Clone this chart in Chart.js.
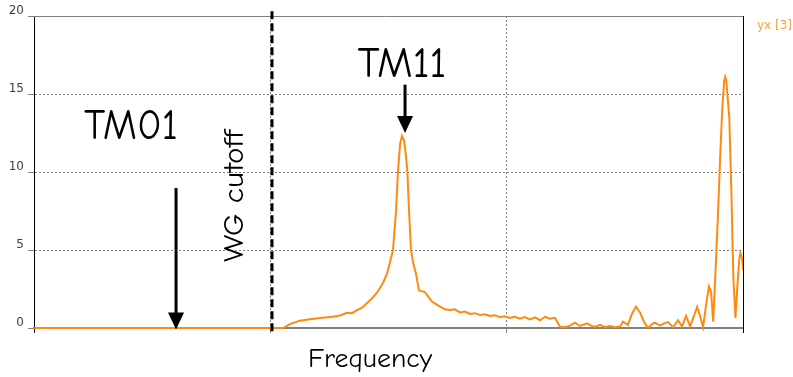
<!DOCTYPE html>
<html>
<head>
<meta charset="utf-8">
<script src="https://cdn.jsdelivr.net/npm/chart.js@4/dist/chart.umd.min.js"></script>
<style>
  html, body { margin: 0; padding: 0; background: #fff; }
  #wrap { width: 793px; height: 377px; position: relative; }
</style>
</head>
<body>
<div id="wrap"><canvas id="spectrum"></canvas></div>
<script>
// frequency axis runs 0..300 (three grid sections, no tick labels)
const freq = [
  0, 105.4, 108.3, 112.5, 116.8, 121.0, 126.5, 129.5, 132.4, 134.5,
  136.7, 138.8, 140.9, 143.0, 145.1, 147.7, 149.4, 150.6, 151.9, 153.2,
  154.0, 154.9, 155.7, 156.6, 157.4, 158.0, 158.7, 159.5, 160.4, 161.6,
  162.9, 165.4, 168.4, 171.8, 173.9, 176.0, 178.1, 180.2, 182.4, 184.5,
  186.6, 188.7, 190.8, 192.9, 195.0, 197.2, 199.3, 201.4, 203.5, 205.6,
  207.7, 209.9, 212.0, 214.1, 216.2, 218.3, 220.4, 222.6, 224.7, 226.8,
  228.9, 231.0, 234.0, 235.7, 237.4, 239.5, 241.6, 243.7, 245.8, 248.0,
  249.2, 251.3, 253.0, 254.7, 256.4, 258.1, 259.8, 261.5, 262.7, 264.9,
  266.6, 268.3, 270.4, 272.5, 274.2, 275.9, 277.6, 279.3, 280.6, 281.8,
  283.1, 284.4, 285.6, 286.5, 287.4, 288.6, 289.5, 290.3, 291.2, 292.0,
  292.5, 292.9, 294.2, 295.1, 295.9, 296.8, 297.6, 298.5, 298.9, 299.7,
  300
];
const amplitude = [
  0, 0, 0.25, 0.47, 0.56, 0.64, 0.72, 0.8, 0.98, 0.95,
  1.15, 1.3, 1.6, 1.9, 2.26, 2.9, 3.5, 4.2, 5.0, 7.5,
  10.0, 11.8, 12.3, 12.0, 11.0, 10.0, 7.5, 5.0, 4.2, 3.5,
  2.4, 2.3, 1.7, 1.37, 1.2, 1.15, 1.2, 1.0, 1.05, 0.9,
  0.95, 0.83, 0.88, 0.77, 0.82, 0.7, 0.75, 0.64, 0.72, 0.6,
  0.7, 0.55, 0.68, 0.5, 0.72, 0.6, 0.65, 0.08, 0.05, 0.15,
  0.34, 0.13, 0.3, 0.15, 0.07, 0.2, 0.05, 0.12, 0.05, 0.1,
  0.4, 0.2, 0.9, 1.37, 1.0, 0.4, 0.0, 0.25, 0.34, 0.15,
  0.3, 0.38, 0.05, 0.5, 0.1, 0.77, 0.1, 0.8, 1.35, 0.8,
  0.05, 1.5, 2.65, 2.3, 0.4, 4.4, 7.6, 10.8, 14.0, 15.8,
  16.1, 15.9, 13.5, 8.6, 3.3, 0.64, 2.65, 4.5, 4.8, 4.4,
  3.7
];
const yTicks = [0, 5, 10, 15, 20];
const xGrid = [0, 100, 200, 300];
const seriesName = 'yx [3]';

const HAND = '"Comic Sans MS", "Comic Neue", "Open Sans", sans-serif';

// draw text squeezed to a given width, baseline at (cx, by)
function fitText(ctx, txt, cx, by, size, width, angle) {
  ctx.save();
  ctx.font = size + 'px ' + HAND;
  const w = ctx.measureText(txt).width;
  ctx.translate(cx, by);
  if (angle) ctx.rotate(angle);
  ctx.scale(width / w, 1);
  ctx.textAlign = 'center';
  ctx.textBaseline = 'alphabetic';
  ctx.fillStyle = '#000';
  ctx.fillText(txt, 0, 0);
  ctx.restore();
}

function arrow(ctx, px, yFrom, yTip) {
  const head = 17, half = 8;
  ctx.beginPath();
  ctx.moveTo(px, yFrom);
  ctx.lineTo(px, yTip - head + 2);
  ctx.lineWidth = 3;
  ctx.strokeStyle = '#000';
  ctx.stroke();
  ctx.beginPath();
  ctx.moveTo(px - half, yTip - head);
  ctx.lineTo(px + half, yTip - head);
  ctx.lineTo(px, yTip);
  ctx.closePath();
  ctx.fillStyle = '#000';
  ctx.fill();
}

const annotate = {
  id: 'annotate',
  afterDraw(chart) {
    const { ctx, chartArea: a, scales: { x, y } } = chart;
    ctx.save();

    // frame: grey top line, black right edge
    ctx.lineWidth = 1;
    ctx.strokeStyle = '#808080';
    ctx.beginPath();
    ctx.moveTo(a.left - 6, a.top + 0.5);
    ctx.lineTo(a.right, a.top + 0.5);
    ctx.stroke();
    ctx.strokeStyle = '#000';
    ctx.beginPath();
    ctx.moveTo(a.right + 0.5, a.top);
    ctx.lineTo(a.right + 0.5, a.bottom + 5);
    ctx.stroke();

    // waveguide cutoff marker
    const xc = x.getPixelForValue(100.7);
    ctx.setLineDash([8, 4]);
    ctx.lineWidth = 3;
    ctx.beginPath();
    ctx.moveTo(xc, y.getPixelForValue(20.3));
    ctx.lineTo(xc, y.getPixelForValue(-0.3));
    ctx.stroke();
    ctx.setLineDash([]);

    arrow(ctx, x.getPixelForValue(60.1), y.getPixelForValue(8.97), y.getPixelForValue(-0.1));
    arrow(ctx, x.getPixelForValue(157.0), y.getPixelForValue(15.6), y.getPixelForValue(12.5));

    fitText(ctx, 'TM01', x.getPixelForValue(41.0), y.getPixelForValue(12.12), 42, 94);
    fitText(ctx, 'TM11', x.getPixelForValue(155.7), y.getPixelForValue(16.09), 42, 89);
    fitText(ctx, 'WG cutoff', x.getPixelForValue(88.3), y.getPixelForValue(8.46), 28, 132, -Math.PI / 2);
    fitText(ctx, 'Frequency', x.getPixelForValue(142.2), y.getPixelForValue(-2.52), 26, 124);

    // series tag at top right
    ctx.font = '12px "DejaVu Sans", sans-serif';
    ctx.fillStyle = '#ffa040';
    ctx.textAlign = 'left';
    ctx.textBaseline = 'alphabetic';
    ctx.fillText(seriesName, a.right + 14, a.top + 13);

    ctx.restore();
  }
};

new Chart(document.getElementById('spectrum'), {
  type: 'line',
  data: {
    datasets: [{
      label: seriesName,
      data: freq.map((f, i) => ({ x: f, y: amplitude[i] })),
      borderColor: '#ff8a10',
      borderWidth: 2,
      pointRadius: 0,
      tension: 0,
      clip: false
    }]
  },
  options: {
    responsive: true,
    maintainAspectRatio: false,
    animation: false,
    layout: { padding: { top: 16, right: 50, left: 0, bottom: 0 } },
    plugins: { legend: { display: false }, tooltip: { enabled: false } },
    scales: {
      x: {
        type: 'linear',
        min: 0,
        max: 300,
        afterBuildTicks: s => { s.ticks = xGrid.map(v => ({ value: v })); },
        afterFit: s => { s.height = 49; },
        ticks: { display: false },
        grid: {
          color: c => (c.tick && (c.tick.value === 0 || c.tick.value === 300)) ? 'rgba(0,0,0,0)' : '#808080',
          tickColor: c => (c.tick && c.tick.value === 0) ? '#000' : '#808080',
          tickLength: 5,
          lineWidth: 1
        },
        border: { display: true, color: '#808080', width: 2, dash: [2, 2] }
      },
      y: {
        min: 0,
        max: 20,
        afterBuildTicks: s => { s.ticks = yTicks.map(v => ({ value: v })); },
        afterFit: s => { s.width = 34; },
        ticks: {
          padding: 4,
          labelOffset: -5,
          color: '#404040',
          font: { family: '"DejaVu Sans", sans-serif', size: 12 }
        },
        grid: {
          color: c => (c.tick && (c.tick.value === 0 || c.tick.value === 20)) ? 'rgba(0,0,0,0)' : '#808080',
          tickColor: '#808080',
          tickLength: 6,
          lineWidth: 1
        },
        border: { display: true, color: '#000', width: 1, dash: [2, 2] }
      }
    }
  },
  plugins: [annotate]
});
</script>
</body>
</html>
